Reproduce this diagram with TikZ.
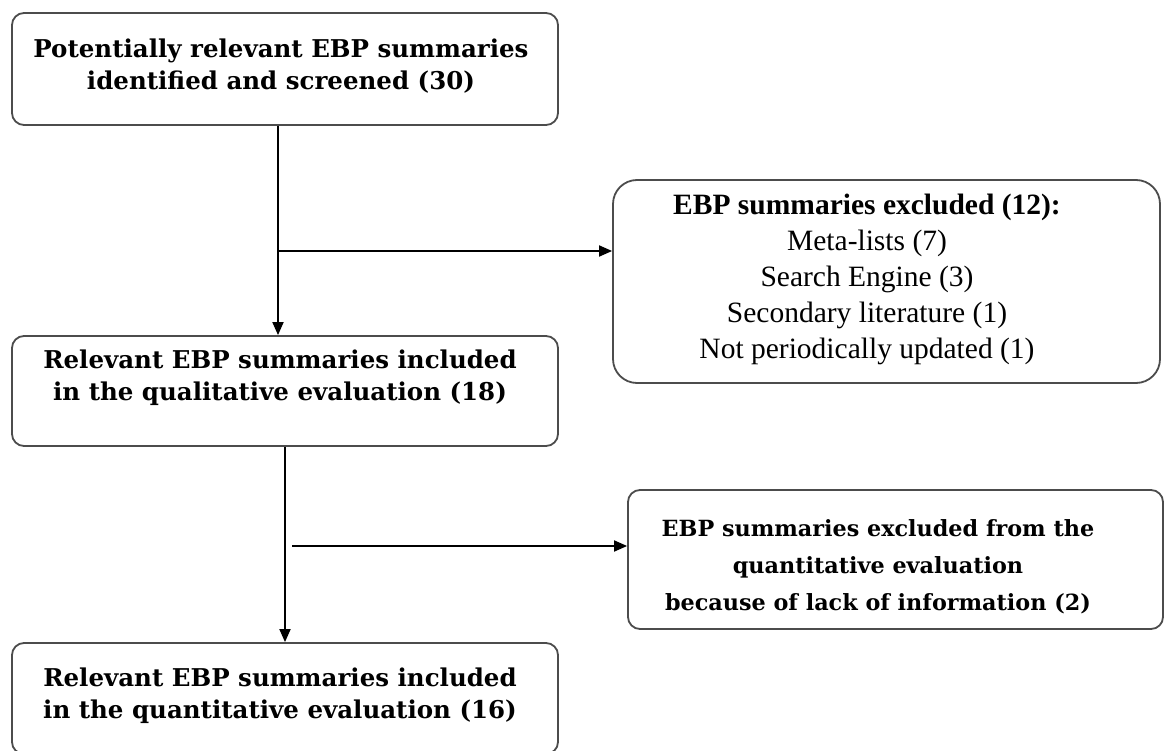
\documentclass[tikz,border=0pt]{standalone}
\usepackage{fontspec}
\setmainfont{Liberation Serif}
\newfontfamily\hdf{DejaVu Serif}
\usetikzlibrary{arrows.meta}
\tikzset{
  box/.style={draw=black!70, line width=1.8pt, rounded corners=12pt, inner sep=0pt},
  bt/.style={font=\hdf\bfseries\fontsize{24.5}{32}\selectfont, align=center, inner sep=0pt},
  rt/.style={font=\fontsize{29.5}{36}\selectfont, align=center, inner sep=0pt},
  arr/.style={line width=1.8pt, draw=black, -{Triangle[length=13pt,width=11pt]}},
}
\begin{document}
\begin{tikzpicture}[x=1pt,y=1pt]
\clip (0,0) rectangle (1167,-751);
\fill[white] (0,0) rectangle (1167,-751);
% boxes
\node[box, minimum width=546pt, minimum height=112pt] (b1) at (285,-69) {};
\node[box, rounded corners=24pt, minimum width=547pt, minimum height=203pt] (b2) at (886.5,-281.5) {};
\node[box, minimum width=546pt, minimum height=110pt] (b3) at (285,-391) {};
\node[box, minimum width=535pt, minimum height=139pt] (b4) at (895.5,-559.5) {};
\node[box, minimum width=546pt, minimum height=111pt] (b5) at (285,-698.5) {};
% texts
\node[bt] (t1) at (281,-66) {Potentially relevant EBP summaries\\identified and screened (30)};
\node[rt] (t2) at (867,-279) {\textbf{EBP summaries excluded (12):}\\Meta-lists (7)\\Search Engine (3)\\Secondary literature (1)\\Not periodically updated (1)};
\node[bt] (t3) at (280,-378) {Relevant EBP summaries included\\in the qualitative evaluation (18)};
\node[bt, font=\hdf\bfseries\fontsize{22.3}{37}\selectfont] (t4) at (878,-567) {EBP summaries excluded from the\\quantitative evaluation\\because of lack of information (2)};
\node[bt] (t5) at (280,-696) {Relevant EBP summaries included\\in the quantitative evaluation (16)};
% connectors
\coordinate (j1) at (278,-251);
\coordinate (j2) at (285,-546);
\coordinate (s2) at (292,-546);
\draw[arr] (b1.south -| j1) -- (b3.north -| j1);
\draw[arr] (j1) -- (j1 -| b2.west);
\draw[arr] (b3.south -| j2) -- (b5.north -| j2);
\draw[arr] (s2) -- (s2 -| b4.west);
\end{tikzpicture}
\end{document}
